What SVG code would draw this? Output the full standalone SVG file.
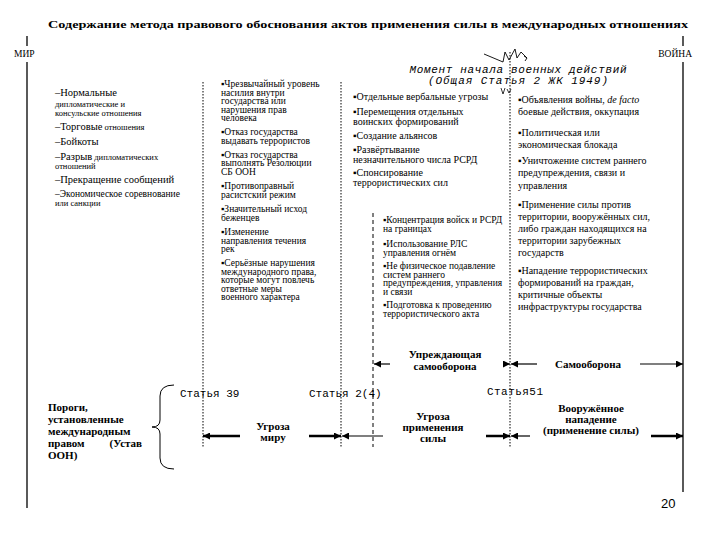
<svg xmlns="http://www.w3.org/2000/svg" width="720" height="540" viewBox="0 0 720 540" font-family="'Liberation Serif', 'Times New Roman', 'DejaVu Serif', serif">
<defs>
<style>
.t{font-family:Liberation Serif, Times New Roman, DejaVu Serif, serif;font-size:9.5px;fill:#000}
.s{font-size:8.5px}
.l{font-size:10.5px}
.w{font-size:10px}
.b{font-family:Liberation Serif, Times New Roman, DejaVu Serif, serif;font-weight:bold;font-size:11px;fill:#000}
.m{font-family:Liberation Mono, Courier New, DejaVu Sans Mono, monospace;font-size:11px;fill:#000}
.frame{stroke:#000;stroke-width:1.3;fill:none}
.dot{stroke:#000;stroke-width:1;stroke-dasharray:1.5 1.5;fill:none}
.dash{stroke:#000;stroke-width:1;stroke-dasharray:4 3;fill:none}
.heavy{stroke:#000;stroke-width:2.5;fill:none}
.thin{stroke:#000;stroke-width:1.2;fill:none}
</style>
<marker id="ah" viewBox="0 0 10 10" refX="10" refY="5" markerWidth="9" markerHeight="7" markerUnits="userSpaceOnUse" orient="auto">
<path d="M0,0 L10,5 L0,10 z" fill="#000"/>
</marker>
</defs>
<rect width="720" height="540" fill="#fff"/>

<g id="title">
<text class="b" x="48" y="28" font-size="12.5" textLength="640" lengthAdjust="spacingAndGlyphs">Содержание метода правового обоснования актов применения силы в международных отношениях</text>
</g>

<g id="frame">
<line class="frame" x1="27" y1="36" x2="27" y2="46"/>
<line class="frame" x1="683" y1="36" x2="683" y2="46"/>
<line class="frame" x1="27" y1="62" x2="27" y2="508"/>
<line class="frame" x1="683" y1="62" x2="683" y2="492"/>
<text class="t" x="14" y="57" font-size="14">МИР</text>
<text class="t" x="692" y="57" font-size="14" text-anchor="end">ВОЙНА</text>
</g>

<g id="guides">
<line class="dot" x1="203" y1="82" x2="203" y2="447"/>
<line class="dot" x1="341" y1="82" x2="341" y2="447"/>
<line class="dash" x1="373" y1="213" x2="373" y2="447"/>
<line class="dot" x1="510" y1="52" x2="510" y2="447"/>
</g>

<g id="moment">
<path d="M484,54 L503,62 L505,52 L509,60 L515,49 L517,58 L521,52 L527,58 M524,56 L527,58 L525,61" fill="none" stroke="#000" stroke-width="0.9"/>
<text class="m" x="518" y="73" text-anchor="middle" font-style="italic" font-size="10.5" textLength="217" lengthAdjust="spacing">Момент начала военных действий</text>
<text class="m" x="518" y="84" text-anchor="middle" font-style="italic" font-size="10.5" textLength="180" lengthAdjust="spacing">(Общая Статья 2 ЖК 1949)</text>
<path d="M501,88 L503,94 L505,88 M507,89 L509,93 L511,89" fill="none" stroke="#000" stroke-width="0.8"/>
</g>

<g id="peace-list">
<text class="t" x="55" y="96"><tspan class="l">–Нормальные</tspan></text>
<text class="t s" x="55" y="107">дипломатические и</text>
<text class="t s" x="55" y="116">консульские отношения</text>
<text class="t" x="55" y="130"><tspan class="l">–Торговые</tspan><tspan class="s"> отношения</tspan></text>
<text class="t" x="55" y="145"><tspan class="l">–Бойкоты</tspan></text>
<text class="t" x="55" y="160"><tspan class="l">–Разрыв</tspan><tspan class="s"> дипломатических</tspan></text>
<text class="t s" x="55" y="169">отношений</text>
<text class="t" x="55" y="183"><tspan class="l">–Прекращение сообщений</tspan></text>
<text class="t" x="55" y="197" font-size="10">–Экономическое соревнование</text>
<text class="t s" x="55" y="206">или санкции</text>
</g>

<g id="threats-peace">
<text class="t" x="221" y="87">▪Чрезвычайный уровень</text>
<text class="t" x="221" y="95.5">насилия внутри</text>
<text class="t" x="221" y="104">государства или</text>
<text class="t" x="221" y="112.5">нарушения прав</text>
<text class="t" x="221" y="121">человека</text>
<text class="t" x="221" y="135">▪Отказ государства</text>
<text class="t" x="221" y="143.5">выдавать террористов</text>
<text class="t" x="221" y="157.5">▪Отказ государства</text>
<text class="t" x="221" y="166">выполнять Резолюции</text>
<text class="t" x="221" y="174.5">СБ ООН</text>
<text class="t" x="221" y="189">▪Противоправный</text>
<text class="t" x="221" y="197.5">расистский режим</text>
<text class="t" x="221" y="212">▪Значительный исход</text>
<text class="t" x="221" y="220.5">беженцев</text>
<text class="t" x="221" y="235">▪Изменение</text>
<text class="t" x="221" y="243.5">направления течения</text>
<text class="t" x="221" y="252">рек</text>
<text class="t" x="221" y="266">▪Серьёзные нарушения</text>
<text class="t" x="221" y="274.5">международного права,</text>
<text class="t" x="221" y="283">которые могут повлечь</text>
<text class="t" x="221" y="291.5">ответные меры</text>
<text class="t" x="221" y="300">военного характера</text>
</g>

<g id="threats-force">
<text class="t w" x="353" y="100">▪Отдельные вербальные угрозы</text>
<text class="t w" x="353" y="115">▪Перемещения отдельных</text>
<text class="t w" x="353" y="125">воинских формирований</text>
<text class="t w" x="353" y="139">▪Создание альянсов</text>
<text class="t w" x="353" y="152.5">▪Развёртывание</text>
<text class="t w" x="353" y="162.5">незначительного числа РСРД</text>
<text class="t w" x="353" y="176">▪Спонсирование</text>
<text class="t w" x="353" y="186">террористических сил</text>
</g>

<g id="anticipatory">
<text class="t" x="383" y="223">▪Концентрация войск и РСРД</text>
<text class="t" x="383" y="231.5">на границах</text>
<text class="t" x="383" y="247">▪Использование РЛС</text>
<text class="t" x="383" y="255.5">управления огнём</text>
<text class="t" x="383" y="269">▪Не физическое подавление</text>
<text class="t" x="383" y="277.5">систем раннего</text>
<text class="t" x="383" y="286">предупреждения, управления</text>
<text class="t" x="383" y="294.5">и связи</text>
<text class="t" x="383" y="308">▪Подготовка к проведению</text>
<text class="t" x="383" y="316.5">террористического акта</text>
</g>

<g id="armed-attack">
<text class="t w" x="518" y="103">▪Объявления войны, <tspan font-style="italic">de facto</tspan></text>
<text class="t w" x="518" y="115">боевые действия, оккупация</text>
<text class="t w" x="518" y="136">▪Политическая или</text>
<text class="t w" x="518" y="148">экономическая блокада</text>
<text class="t w" x="518" y="164">▪Уничтожение систем раннего</text>
<text class="t w" x="518" y="176">предупреждения, связи и</text>
<text class="t w" x="518" y="189">управления</text>
<text class="t w" x="518" y="208">▪Применение силы против</text>
<text class="t w" x="518" y="220">территории, вооружённых сил,</text>
<text class="t w" x="518" y="232">либо граждан находящихся на</text>
<text class="t w" x="518" y="244">территории зарубежных</text>
<text class="t w" x="518" y="256">государств</text>
<text class="t w" x="518" y="274">▪Нападение террористических</text>
<text class="t w" x="518" y="286">формирований на граждан,</text>
<text class="t w" x="518" y="298">критичные объекты</text>
<text class="t w" x="518" y="310">инфраструктуры государства</text>
</g>

<g id="self-defence-labels">
<text class="b" x="445" y="358" text-anchor="middle">Упреждающая</text>
<text class="b" x="445" y="370" text-anchor="middle">самооборона</text>
<text class="b" x="588" y="368" text-anchor="middle">Самооборона</text>
</g>

<g id="articles">
<text class="m" x="180" y="397" font-size="10.5">Статья 39</text>
<text class="m" x="309" y="397" font-size="10.5">Статья 2(4)</text>
<text class="m" x="487" y="395" font-size="10.5" textLength="56">Статья51</text>
</g>

<g id="thresholds">
<text class="b" x="273" y="430" text-anchor="middle">Угроза</text>
<text class="b" x="273" y="441" text-anchor="middle">миру</text>
<text class="b" x="433" y="420" text-anchor="middle">Угроза</text>
<text class="b" x="433" y="431" text-anchor="middle">применения</text>
<text class="b" x="433" y="442" text-anchor="middle">силы</text>
<text class="b" x="591" y="412" text-anchor="middle">Вооружённое</text>
<text class="b" x="591" y="423" text-anchor="middle" font-size="10">нападение</text>
<text class="b" x="591" y="434" text-anchor="middle" font-size="10">(применение силы)</text>
</g>

<g id="un-charter">
<text class="b" x="48" y="411">Пороги,</text>
<text class="b" x="48" y="423">установленные</text>
<text class="b" x="48" y="435">международным</text>
<text class="b" x="48" y="447">правом</text>
<text class="b" x="142" y="447" text-anchor="end">(Устав</text>
<text class="b" x="48" y="459">ООН)</text>
<path d="M174,385 Q160,385 160,396 L160,420 Q160,427 152,427 Q160,427 160,434 L160,458 Q160,469 174,469" fill="none" stroke="#000" stroke-width="1"/>
</g>

<g id="connectors">
<line class="thin" x1="390" y1="364" x2="374" y2="364" marker-end="url(#ah)"/>
<line class="thin" x1="503" y1="364" x2="510" y2="364" marker-end="url(#ah)"/>
<line class="thin" x1="537" y1="364" x2="511" y2="364" marker-end="url(#ah)"/>
<line class="thin" x1="640" y1="364" x2="683" y2="364" marker-end="url(#ah)"/>
<line class="heavy" x1="240" y1="436" x2="203" y2="436" marker-end="url(#ah)"/>
<line class="heavy" x1="309" y1="436" x2="341" y2="436" marker-end="url(#ah)"/>
<line class="thin" x1="383" y1="436" x2="342" y2="436" marker-end="url(#ah)"/>
<line class="heavy" x1="486" y1="436" x2="510" y2="436" marker-end="url(#ah)"/>
<line class="thin" x1="530" y1="436" x2="511" y2="436" marker-end="url(#ah)"/>
<line class="heavy" x1="651" y1="436" x2="683" y2="436" marker-end="url(#ah)"/>
</g>

<g id="page">
<text x="661" y="508" font-family="Liberation Sans, Arial, sans-serif" font-size="13" fill="#000">20</text>
</g>
</svg>
